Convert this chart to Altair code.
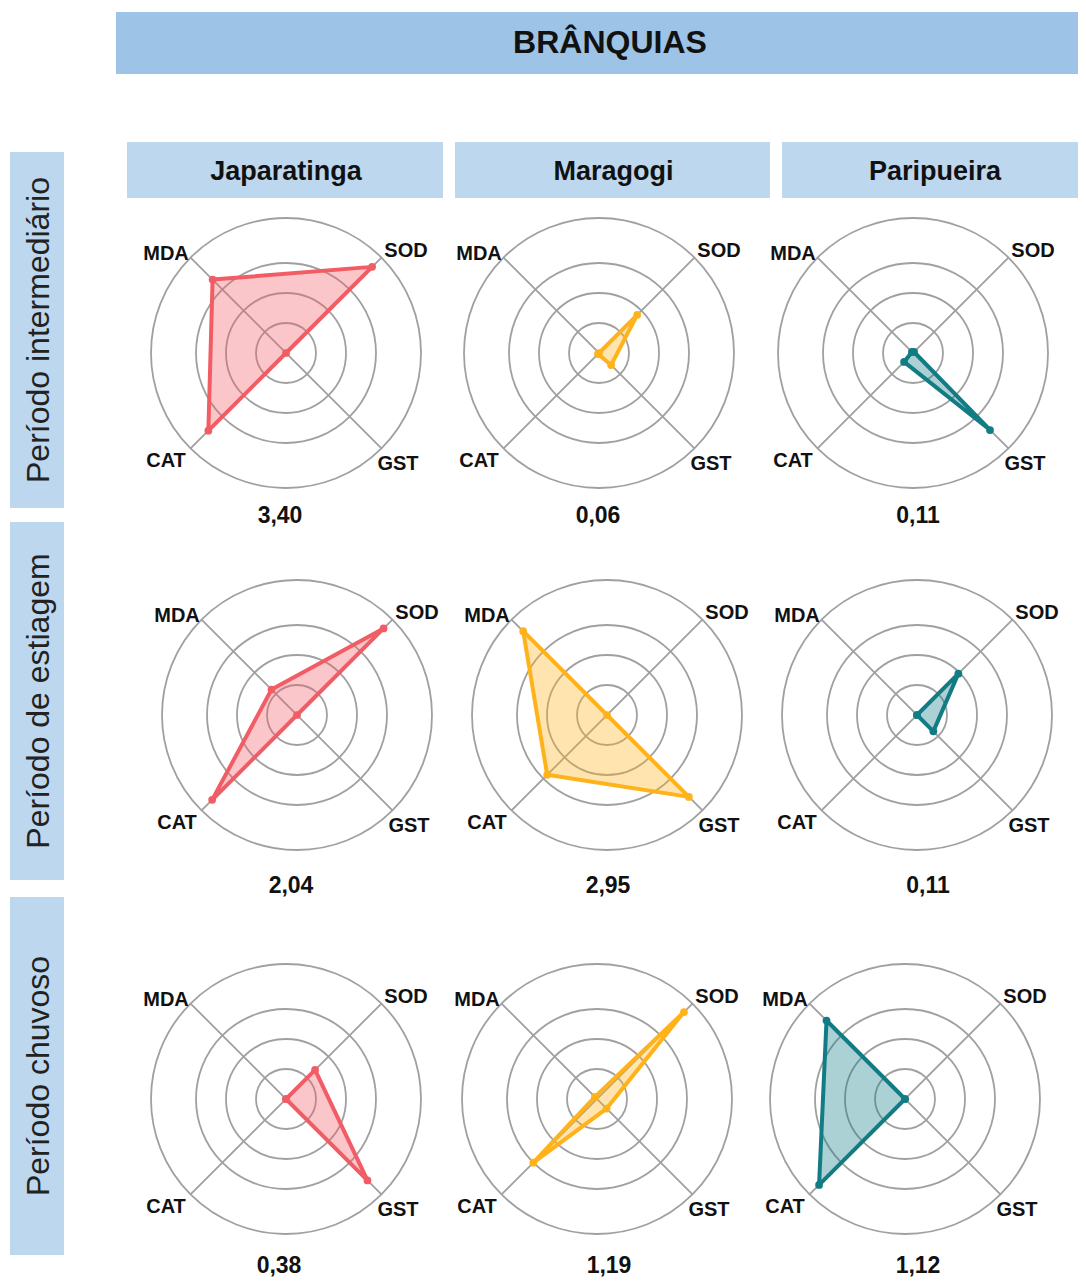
import altair as alt
import pandas as pd

# ---------------- data ----------------
title_text = "BRÂNQUIAS"
sites = ["Japaratinga", "Maragogi", "Paripueira"]
periods = ["Período intermediário", "Período de estiagem", "Período chuvoso"]
enzymes = ["SOD", "GST", "CAT", "MDA"]
enzyme_angles = [45, -45, -135, 135]          # direction of each radar axis (degrees)
ring_levels = [1, 2, 3, 4.5]                  # grid circles (outer circle = axis end)

# values, order SOD, GST, CAT, MDA (in grid-ring units)
vals_intermediario = [[4.06, 0.00, 3.66, 3.46],   # Japaratinga
                      [1.80, 0.57, 0.05, 0.00],   # Maragogi
                      [0.05, 3.63, 0.42, 0.05]]   # Paripueira
vals_estiagem = [[4.08, 0.00, 4.00, 1.20],
                 [0.00, 3.86, 2.82, 3.95],
                 [1.95, 0.77, 0.00, 0.00]]
vals_chuvoso = [[1.37, 3.84, 0.00, 0.00],
                [4.10, 0.45, 3.00, 0.10],
                [0.00, 0.00, 4.05, 3.70]]
all_vals = [vals_intermediario, vals_estiagem, vals_chuvoso]

totals_intermediario = ["3,40", "0,06", "0,11"]
totals_estiagem = ["2,04", "2,95", "0,11"]
totals_chuvoso = ["0,38", "1,19", "1,12"]
all_totals = [totals_intermediario, totals_estiagem, totals_chuvoso]

site_colors = ["#F25C64", "#FFB21A", "#127C85"]

# ---------------- layout (page pixels) ----------------
UNIT = 30
center_x = [[286, 599, 913], [297, 607, 917], [286, 597, 905]]
center_y = [353, 715, 1099]
total_dx = [[-6, -1, 5], [-6, 1, 11], [-7, 12, 13]]
total_dy = [163, 171, 167]
label_dx = {"SOD": 120, "GST": 112, "CAT": -120, "MDA": -120}
label_dy = {"SOD": -102, "GST": 111, "CAT": 108, "MDA": -99}

title_box = dict(x=116, x2=1086, y=12, y2=74)
col_boxes_x = [(127, 443), (455, 770), (782, 1086)]
col_box_y = (142, 198)
row_box_x = (10, 64)
row_boxes_y = [(152, 508), (522, 880), (897, 1255)]
title_color = "#9DC3E6"
header_color = "#BDD7EE"

FONT = "Arial, Liberation Sans, sans-serif"

# ---------------- tables ----------------
vert_rows, ring_rows, spoke_rows, lab_rows, tot_rows = [], [], [], [], []
for i, per in enumerate(periods):
    for j, site in enumerate(sites):
        cx, cy = center_x[i][j], center_y[i]
        panel = f"{i}-{j}"
        col = site_colors[j]
        v = all_vals[i][j]
        for k, (e, a) in enumerate(zip(enzymes, enzyme_angles)):
            vert_rows.append(dict(panel=panel, site=site, col=col, cx=cx, cy=cy, enzyme=e,
                                  angle=a, value=v[k], order=k, vertex=1))
            lab_rows.append(dict(panel=panel, x=cx + label_dx[e], y=cy + label_dy[e], label=e))
        vert_rows.append(dict(panel=panel, site=site, col=col, cx=cx, cy=cy, enzyme=enzymes[0],
                              angle=enzyme_angles[0], value=v[0], order=4, vertex=0))
        for r in ring_levels:
            ring_rows.append(dict(panel=panel, cx=cx, cy=cy, r=r))
        for a in (135, 45):
            spoke_rows.append(dict(panel=panel, cx=cx, cy=cy, angle=a, rmax=ring_levels[-1]))
        tot_rows.append(dict(x=cx + total_dx[i][j], y=cy + total_dy[i], label=all_totals[i][j]))

verts = pd.DataFrame(vert_rows)
rings = pd.DataFrame(ring_rows)
spokes = pd.DataFrame(spoke_rows)
labs = pd.DataFrame(lab_rows)
tots = pd.DataFrame(tot_rows)

boxes = pd.DataFrame(
    [dict(col=title_color, **title_box)]
    + [dict(col=header_color, x=a, x2=b, y=col_box_y[0], y2=col_box_y[1]) for a, b in col_boxes_x]
    + [dict(col=header_color, x=row_box_x[0], x2=row_box_x[1], y=a, y2=b) for a, b in row_boxes_y]
)
col_titles = pd.DataFrame([dict(x=(a + b) / 2 + 1, y=(col_box_y[0] + col_box_y[1]) / 2 + 2, label=s)
                           for (a, b), s in zip(col_boxes_x, sites)])
row_titles = pd.DataFrame([dict(x=(row_box_x[0] + row_box_x[1]) / 2 + 2, y=(a + b) / 2, label=p)
                           for (a, b), p in zip(row_boxes_y, periods)])
main_title = pd.DataFrame([dict(x=(title_box["x"] + title_box["x2"]) / 2 + 9,
                                y=(title_box["y"] + title_box["y2"]) / 2, label=title_text)])

# ---------------- scales ----------------
xs = alt.Scale(domain=[8, 1078], range=[0, 1070], nice=False, zero=False)
ys = alt.Scale(domain=[8, 1277], range=[0, 1269], nice=False, zero=False)


def X(f):
    return alt.X(f, scale=xs, axis=None)


def Y(f):
    return alt.Y(f, scale=ys, axis=None)


# header boxes
box_layer = alt.Chart(boxes).mark_rect().encode(
    x=X("x:Q"), x2="x2:Q", y=Y("y:Q"), y2="y2:Q",
    color=alt.Color("col:N", scale=None),
)
title_layer = alt.Chart(main_title).mark_text(font=FONT, fontSize=32, fontWeight="bold",
                                              color="#111111").encode(
    x=X("x:Q"), y=Y("y:Q"), text="label:N")
col_layer = alt.Chart(col_titles).mark_text(font=FONT, fontSize=27, fontWeight="bold",
                                            color="#111111").encode(
    x=X("x:Q"), y=Y("y:Q"), text="label:N")
row_layer = alt.Chart(row_titles).mark_text(font=FONT, fontSize=32, angle=270,
                                            color="#222222").encode(
    x=X("x:Q"), y=Y("y:Q"), text="label:N")

# grid circles
ring_layer = alt.Chart(rings).transform_calculate(
    sz=f"pow(2 * datum.r * {UNIT}, 2)"
).mark_point(shape="circle", filled=False, color="#A0A0A0", strokeWidth=1.8, opacity=1).encode(
    x=X("cx:Q"), y=Y("cy:Q"), size=alt.Size("sz:Q", scale=None))

# spokes
spoke_layer = alt.Chart(spokes).transform_calculate(
    x1=f"datum.cx + datum.rmax * {UNIT} * cos(datum.angle * PI / 180)",
    y1=f"datum.cy - datum.rmax * {UNIT} * sin(datum.angle * PI / 180)",
    x2=f"datum.cx - datum.rmax * {UNIT} * cos(datum.angle * PI / 180)",
    y2=f"datum.cy + datum.rmax * {UNIT} * sin(datum.angle * PI / 180)",
).mark_rule(color="#A0A0A0", strokeWidth=1.8).encode(
    x=X("x1:Q"), y=Y("y1:Q"), x2="x2:Q", y2="y2:Q")

# radar polygons
vbase = alt.Chart(verts).transform_calculate(
    px=f"datum.cx + datum.value * {UNIT} * cos(datum.angle * PI / 180)",
    py=f"datum.cy - datum.value * {UNIT} * sin(datum.angle * PI / 180)",
)
fill_layer = vbase.mark_line(filled=True, fillOpacity=0.35, strokeWidth=0).encode(
    x=X("px:Q"), y=Y("py:Q"), detail="panel:N", order="order:Q",
    color=alt.Color("col:N", scale=None))
line_layer = vbase.mark_line(strokeWidth=4, strokeJoin="round").encode(
    x=X("px:Q"), y=Y("py:Q"), detail="panel:N", order="order:Q",
    color=alt.Color("col:N", scale=None))
dot_layer = vbase.transform_filter("datum.vertex == 1").mark_circle(size=60, opacity=1).encode(
    x=X("px:Q"), y=Y("py:Q"),
    color=alt.Color("col:N", scale=None))

# axis labels and totals
lab_layer = alt.Chart(labs).mark_text(font=FONT, fontSize=20, fontWeight="bold",
                                      color="#111111").encode(
    x=X("x:Q"), y=Y("y:Q"), text="label:N")
tot_layer = alt.Chart(tots).mark_text(font=FONT, fontSize=23, fontWeight="bold",
                                      color="#111111").encode(
    x=X("x:Q"), y=Y("y:Q"), text="label:N")

chart = alt.layer(
    box_layer, title_layer, col_layer, row_layer,
    ring_layer, spoke_layer, fill_layer, line_layer, dot_layer,
    lab_layer, tot_layer,
).properties(
    width=1070, height=1269, padding=0, autosize=alt.AutoSizeParams(type="none"),
).configure_view(stroke=None)

chart.save("out.html", embed_options={"renderer": "svg", "actions": False})
